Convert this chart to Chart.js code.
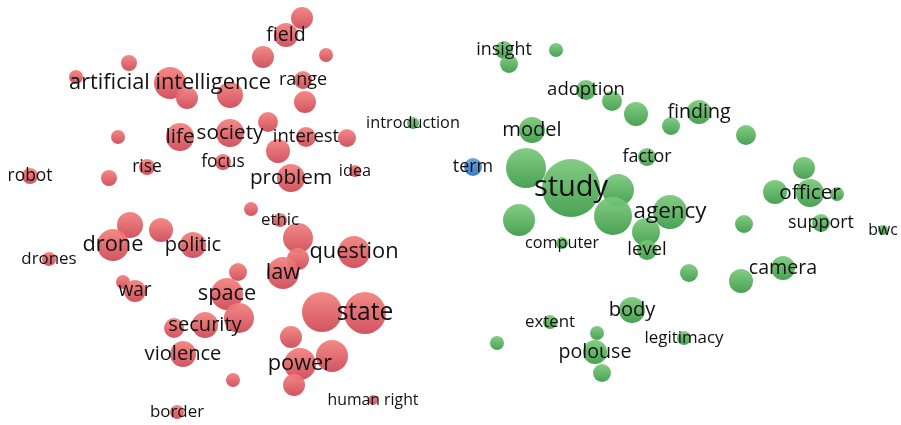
<!DOCTYPE html>
<html>
<head>
<meta charset="utf-8">
<script src="https://cdn.jsdelivr.net/npm/chart.js@4"></script>
<style>
html,body{margin:0;padding:0;background:#fff;}
#wrap{width:901px;height:425px;}
</style>
</head>
<body>
<div id="wrap"><canvas id="c" width="901" height="425"></canvas></div>
<script>
// ---- Cluster 1 (red) ----
const redTerms = ["", "field", "", "", "", "", "artificial intelligence", "", "", "range", "", "", "", "life", "society", "interest", "", "", "rise", "focus", "", "robot", "problem", "idea", "", "ethic", "", "drone", "", "politic", "drones", "", "", "question", "law", "", "", "war", "space", "", "", "state", "security", "", "", "violence", "", "power", "", "", "border", "human right"];
const redX = [302, 286, 263, 326, 129, 76, 170, 187, 230, 303, 305, 268, 118, 180, 230, 306, 347, 278, 147, 223, 109, 30, 291, 355, 251, 280, 130, 113, 161, 193, 49, 298, 298, 354, 283, 238, 123, 135, 227, 239, 322, 365, 205, 174, 291, 183, 332, 300, 294, 233, 177, 373];
const redY = [18, 35, 57, 55, 63, 77, 83, 98, 95, 80, 102, 122, 137, 137, 133, 137, 138, 151, 167, 162, 178, 176, 178, 171, 209, 220, 225, 245, 230, 245, 259, 238, 259, 252, 273, 272, 282, 291, 294, 318, 312, 313, 325, 328, 337, 354, 356, 364, 385, 380, 412, 400];
const redW = [11, 12, 11, 7, 8, 7, 16, 11, 13, 9, 11, 10, 7, 14, 14, 10, 9, 12, 8, 8, 8, 8, 14, 6, 7, 7, 13, 16, 12, 13, 7, 15, 11, 16, 16, 9, 7, 11, 16, 15, 20, 21, 13, 10, 11, 13, 16, 16, 11, 7, 7, 5];

// ---- Cluster 2 (green) ----
const greenTerms = ["insight", "", "", "adoption", "", "", "finding", "", "", "model", "", "study", "", "factor", "", "", "officer", "", "agency", "", "", "", "level", "computer", "", "support", "bwc", "", "", "camera", "body", "extent", "", "legitimacy", "", "polouse", "", "introduction"];
const greenX = [504, 509, 556, 586, 612, 636, 699, 671, 746, 532, 526, 571, 618, 647, 804, 775, 810, 837, 670, 613, 519, 646, 647, 562, 744, 821, 883, 689, 741, 783, 632, 550, 597, 684, 497, 595, 602, 413];
const greenY = [50, 64, 50, 90, 101, 114, 112, 126, 135, 130, 168, 188, 190, 157, 168, 192, 193, 194, 212, 216, 220, 232, 250, 243, 224, 223, 230, 273, 281, 268, 310, 322, 333, 338, 343, 352, 373, 123];
const greenW = [9, 9, 7, 10, 10, 12, 12, 9, 10, 13, 20, 29, 16, 9, 11, 12, 14, 7, 17, 19, 16, 14, 10, 6, 9, 9, 5, 9, 12, 12, 13, 7, 7, 7, 7, 12, 9, 6];

// ---- Cluster 3 (blue) ----
const blueTerms = ["term"];
const blueX = [473];
const blueY = [167];
const blueW = [9];

const palette = {
  red:   {top: 'rgba(242,128,124,0.92)', bottom: 'rgba(206,70,84,0.92)'},
  green: {top: 'rgba(122,200,122,0.92)', bottom: 'rgba(58,154,70,0.92)'},
  blue:  {top: 'rgba(100,160,220,0.95)', bottom: 'rgba(50,120,190,0.95)'}
};

function build(terms, xs, ys, ws) {
  return terms.map((t, i) => ({x: xs[i], y: ys[i], r: ws[i], label: t}));
}

function grad(key) {
  return function(ctx) {
    const chart = ctx.chart;
    const raw = ctx.raw;
    const fallback = palette[key].top;
    if (!raw || !chart.scales || !chart.scales.x || !chart.scales.y) return fallback;
    const px = chart.scales.x.getPixelForValue(raw.x);
    const py = chart.scales.y.getPixelForValue(raw.y);
    if (!isFinite(px) || !isFinite(py) || !isFinite(raw.r)) return fallback;
    const g = chart.ctx.createLinearGradient(px, py - raw.r, px, py + raw.r);
    g.addColorStop(0, palette[key].top);
    g.addColorStop(1, palette[key].bottom);
    return g;
  };
}

const labelPlugin = {
  id: 'termLabels',
  afterDatasetsDraw(chart) {
    const c = chart.ctx;
    c.save();
    c.textAlign = 'center';
    c.textBaseline = 'middle';
    c.fillStyle = '#111';
    chart.data.datasets.forEach((ds, di) => {
      const meta = chart.getDatasetMeta(di);
      meta.data.forEach((el, i) => {
        const d = ds.data[i];
        if (!d.label) return;
        const fs = 13 + 0.55 * d.r;
        c.font = fs.toFixed(1) + 'px "Open Sans"';
        c.fillText(d.label, el.x, el.y);
      });
    });
    c.restore();
  }
};

new Chart(document.getElementById('c'), {
  type: 'bubble',
  data: {
    datasets: [
      {label: 'cluster 1', data: build(redTerms, redX, redY, redW), backgroundColor: grad('red'), borderWidth: 0},
      {label: 'cluster 2', data: build(greenTerms, greenX, greenY, greenW), backgroundColor: grad('green'), borderWidth: 0},
      {label: 'cluster 3', data: build(blueTerms, blueX, blueY, blueW), backgroundColor: grad('blue'), borderWidth: 0}
    ]
  },
  options: {
    responsive: false,
    animation: false,
    layout: {padding: 0, autoPadding: false},
    scales: {
      x: {type: 'linear', min: 0, max: 901, display: false},
      y: {type: 'linear', min: 0, max: 425, reverse: true, display: false}
    },
    plugins: {legend: {display: false}, tooltip: {enabled: false}},
    elements: {point: {hoverRadius: 0}}
  },
  plugins: [labelPlugin]
});
</script>
</body>
</html>
